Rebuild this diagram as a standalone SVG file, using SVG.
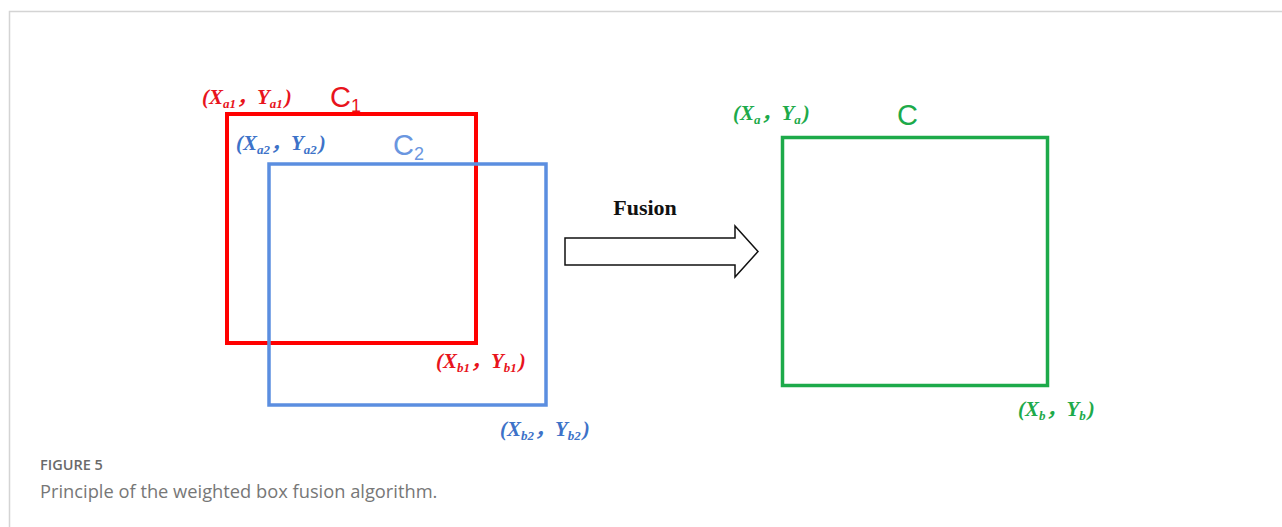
<svg xmlns="http://www.w3.org/2000/svg" width="1282" height="527" viewBox="0 0 1282 527">
<style>
.frame{stroke:#d4d4d4;stroke-width:1.5;fill:none}
.coord{font-family:"Liberation Serif","Noto Sans CJK SC",serif;font-style:italic;font-weight:bold;font-size:21px}
.sub{font-size:13px}
.clabel{font-family:"Liberation Sans",Arial,sans-serif;font-size:29px}
.csub{font-size:18px}
.red{fill:#e8141c}
.blue{fill:#3d72c8}
.lblue{fill:#6a96e0}
.green{fill:#1daa4a}
.box{fill:none}
.cap1{font-family:"Open Sans","Noto Sans",sans-serif;font-size:14.5px;font-weight:600;fill:#6a6a6a}
.cap2{font-family:"Open Sans","Noto Sans",sans-serif;font-size:18.3px;fill:#777}
</style>
<path class="frame" d="M9.5 527 V11.5 H1282"/>
<g id="box-c1">
<rect class="box" x="227" y="114" width="249" height="229" stroke="#ff0000" stroke-width="4"/>
<text class="coord red" x="202" y="104">(X<tspan class="sub" dy="4">a1</tspan><tspan dy="-4">，Y</tspan><tspan class="sub" dy="4">a1</tspan><tspan dy="-4" dx="2">)</tspan></text>
<text class="clabel red" x="330" y="107">C<tspan class="csub" dy="5">1</tspan></text>
<text class="coord red" x="436" y="368">(X<tspan class="sub" dy="4">b1</tspan><tspan dy="-4">，Y</tspan><tspan class="sub" dy="4">b1</tspan><tspan dy="-4" dx="2">)</tspan></text>
</g>
<g id="box-c2">
<rect class="box" x="269" y="164" width="277" height="241" stroke="#5b8ee0" stroke-width="3.5"/>
<text class="coord blue" x="236" y="150">(X<tspan class="sub" dy="4">a2</tspan><tspan dy="-4">，Y</tspan><tspan class="sub" dy="4">a2</tspan><tspan dy="-4" dx="2">)</tspan></text>
<text class="clabel lblue" x="393" y="155">C<tspan class="csub" dy="5">2</tspan></text>
<text class="coord blue" x="500" y="436">(X<tspan class="sub" dy="4">b2</tspan><tspan dy="-4">，Y</tspan><tspan class="sub" dy="4">b2</tspan><tspan dy="-4" dx="2">)</tspan></text>
</g>
<g id="connectors">
<path d="M565 238 H735 V226 L758 251.5 L735 277 V265 H565 Z" fill="#fff" stroke="#111" stroke-width="1.5" stroke-linejoin="miter"/>
<text x="645" y="215" text-anchor="middle" font-family="Liberation Serif,serif" font-weight="bold" font-size="22" fill="#111">Fusion</text>
</g>
<g id="box-c">
<rect class="box" x="782.5" y="137.5" width="265" height="248" stroke="#1daa4a" stroke-width="3.5"/>
<text class="coord green" x="733" y="120">(X<tspan class="sub" dy="4">a</tspan><tspan dy="-4">，Y</tspan><tspan class="sub" dy="4">a</tspan><tspan dy="-4" dx="2">)</tspan></text>
<text class="clabel green" x="897" y="125">C</text>
<text class="coord green" x="1018" y="416">(X<tspan class="sub" dy="4">b</tspan><tspan dy="-4">，Y</tspan><tspan class="sub" dy="4">b</tspan><tspan dy="-4" dx="2">)</tspan></text>
</g>
<g id="caption">
<text class="cap1" x="40" y="470">FIGURE 5</text>
<text class="cap2" x="40" y="498">Principle of the weighted box fusion algorithm.</text>
</g>
</svg>
